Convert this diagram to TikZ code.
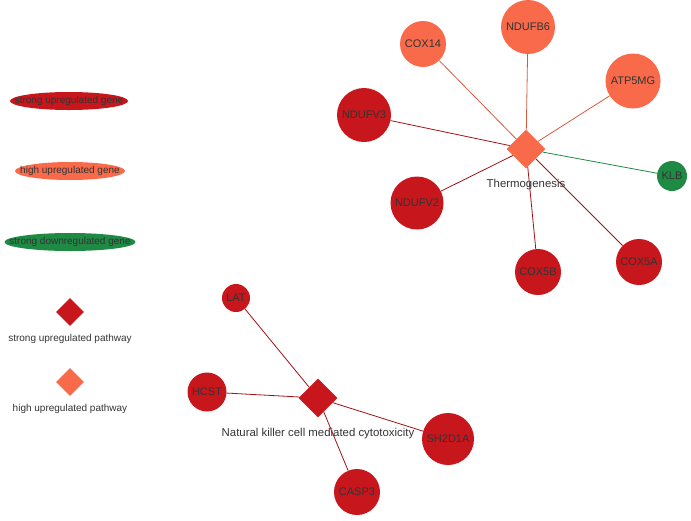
\documentclass[tikz,border=0pt]{standalone}
\usepackage{fontspec}
\setmainfont{Liberation Sans}
\usepackage{xcolor}
\usetikzlibrary{shapes,positioning}

\definecolor{strongup}{HTML}{C8161D}
\definecolor{highup}{HTML}{F96A4A}
\definecolor{strongdown}{HTML}{1E8A43}
\definecolor{labelgray}{HTML}{333333}

\begin{document}
\begin{tikzpicture}[x=1pt, y=-1pt, auto]
        \tikzstyle{gene} = [circle, inner sep=0pt, text=labelgray, font=\fontsize{11}{13}\selectfont]
        \tikzstyle{strong} = [gene, fill=strongup]
        \tikzstyle{high} = [gene, fill=highup]
        \tikzstyle{down} = [gene, fill=strongdown]
        \tikzstyle{pathway} = [diamond, inner sep=0pt, minimum size=39pt]
        \tikzstyle{pathlabel} = [label distance=6.5pt, text=labelgray, font=\fontsize{11.4}{13}\selectfont]
        \tikzstyle{legendgene} = [ellipse, inner sep=0pt, minimum height=18pt, text=labelgray, font=\fontsize{10}{12}\selectfont]
        \tikzstyle{legendpath} = [diamond, inner sep=0pt, minimum size=28pt]
        \tikzstyle{legendlabel} = [label distance=5pt, text=labelgray, font=\fontsize{10}{12}\selectfont]
        \tikzstyle{redline} = [draw=strongup!80!black, line width=0.8pt]
        \tikzstyle{orangeline} = [draw=highup!85!black, line width=0.8pt]
        \tikzstyle{greenline} = [draw=strongdown, line width=0.8pt]

        \useasboundingbox (0,0) rectangle (691,520);

        % legend
        \node [legendgene, fill=strongup, minimum width=118pt] (lstrong) at (69,101) {\makebox[0pt]{strong upregulated gene}};
        \node [legendgene, fill=highup, minimum width=110pt] (lhigh) at (70,171) {\makebox[0pt]{high upregulated gene}};
        \node [legendgene, fill=strongdown, minimum width=131pt] (ldown) at (70,242) {\makebox[0pt]{strong downregulated gene}};
        \node [legendpath, fill=strongup, label={[legendlabel]below:strong upregulated pathway}] (lpstrong) at (70,312) {};
        \node [legendpath, fill=highup, label={[legendlabel]below:high upregulated pathway}] (lphigh) at (70,382) {};

        % thermogenesis
        \node [pathway, fill=highup, label={[pathlabel]below:Thermogenesis}] (thermo) at (526,149) {};
        \node [high, minimum size=46pt] (cox14) at (423,44) {COX14};
        \node [high, minimum size=54pt] (ndufb6) at (528,27) {NDUFB6};
        \node [high, minimum size=55pt] (atp5mg) at (633,81) {ATP5MG};
        \node [strong, minimum size=54pt] (ndufv3) at (364,115) {NDUFV3};
        \node [strong, minimum size=53pt] (ndufv2) at (417,203) {NDUFV2};
        \node [down, minimum size=30pt] (klb) at (672,176) {KLB};
        \node [strong, minimum size=46pt] (cox5b) at (538,272) {COX5B};
        \node [strong, minimum size=46pt] (cox5a) at (639,262) {COX5A};

        % natural killer cell
        \node [pathway, fill=strongup, label={[pathlabel]below:Natural killer cell mediated cytotoxicity}] (nkcell) at (318,398) {};
        \node [strong, minimum size=28pt] (lat) at (236,298) {LAT};
        \node [strong, minimum size=39pt] (hcst) at (207,392) {HCST};
        \node [strong, minimum size=46pt] (casp3) at (357,492) {CASP3};
        \node [strong, minimum size=52pt] (sh2d1a) at (448,439) {SH2D1A};

        \path [orangeline] (cox14) -- (thermo);
        \path [orangeline] (ndufb6) -- (thermo);
        \path [orangeline] (atp5mg) -- (thermo);
        \path [redline] (ndufv3) -- (thermo);
        \path [redline] (ndufv2) -- (thermo);
        \path [greenline] (klb) -- (thermo);
        \path [redline] (cox5b) -- (thermo);
        \path [redline] (cox5a) -- (thermo);

        \path [redline] (lat) -- (nkcell);
        \path [redline] (hcst) -- (nkcell);
        \path [redline] (casp3) -- (nkcell);
        \path [redline] (sh2d1a) -- (nkcell);
    \end{tikzpicture}
\end{document}
